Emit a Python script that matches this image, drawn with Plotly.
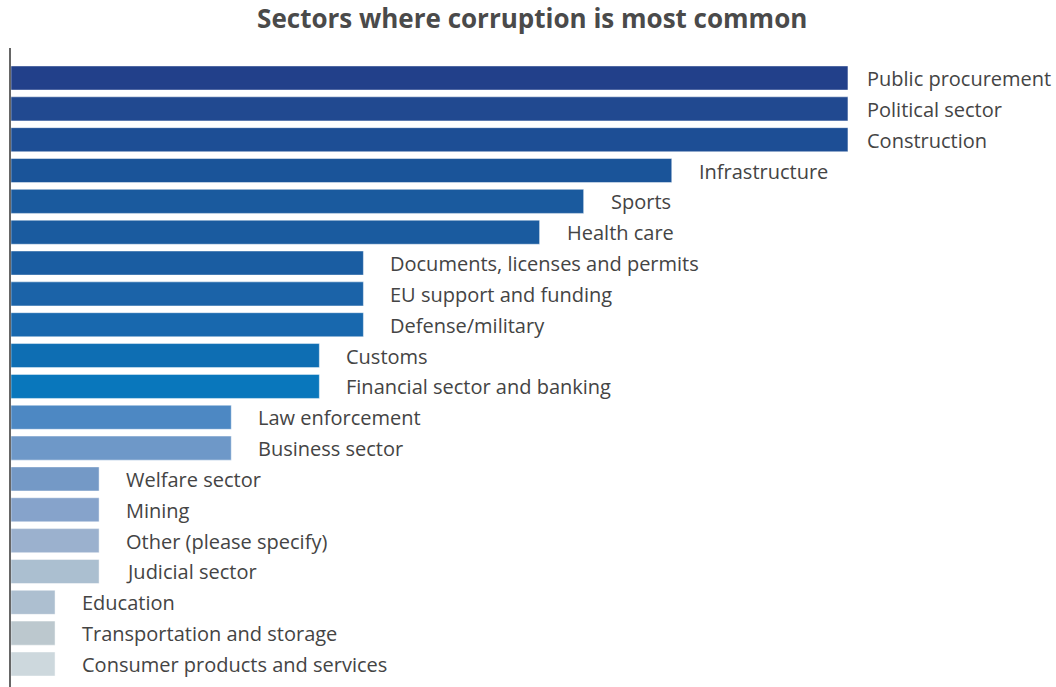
import plotly.graph_objects as go

# Sectors and number of responses naming each one
sectors = [
    "Public procurement", "Political sector", "Construction", "Infrastructure",
    "Sports", "Health care", "Documents, licenses and permits",
    "EU support and funding", "Defense/military", "Customs",
    "Financial sector and banking", "Law enforcement", "Business sector",
    "Welfare sector", "Mining", "Other (please specify)", "Judicial sector",
    "Education", "Transportation and storage", "Consumer products and services",
]
counts = [19, 19, 19, 15, 13, 12, 8, 8, 8, 7, 7, 5, 5, 2, 2, 2, 2, 1, 1, 1]

bar_colors = [
    "#22408A", "#214990", "#1D4E95", "#1A5499", "#1A5A9E", "#1A5B9F",
    "#1A5DA2", "#1B63A8", "#1868AE", "#0E6EB3", "#0977BC", "#4D88C3",
    "#6E98C8", "#7499C6", "#86A3CB", "#9BB1CE", "#ABBFD0", "#ADBFD0",
    "#BCC8CE", "#CDD8DD",
]

fig = go.Figure(
    go.Bar(
        x=counts,
        y=sectors,
        orientation="h",
        marker=dict(color=bar_colors, line=dict(color="rgba(255,255,255,0.45)", width=1)),
        hoverinfo="x+y",
    )
)

top = max(counts)
for name, val in zip(sectors, counts):
    fig.add_annotation(
        x=val, y=name, text=name, showarrow=False,
        xanchor="left", yanchor="middle",
        xshift=17 if val == top else 25,
        yshift=-0.5,
        font=dict(family="Open Sans", size=20, color="#444444"),
    )

fig.update_layout(
    width=1056, height=687,
    margin=dict(l=11, r=0, t=48, b=0),
    paper_bgcolor="white", plot_bgcolor="white",
    bargap=0.22,
    showlegend=False,
    title=dict(
        text="<b>Sectors where corruption is most common</b>",
        x=0.504, xanchor="center", y=0.972, yanchor="middle",
        font=dict(family="Open Sans", size=26, color="#4a4a4a"),
    ),
    xaxis=dict(range=[0, 1045 / 44.05], visible=False, fixedrange=True),
    yaxis=dict(
        categoryorder="array", categoryarray=sectors,
        range=[19.746, -0.973], showticklabels=False, ticks="",
        showgrid=False, zeroline=False,
        showline=True, linecolor="#666666", linewidth=1.5,
    ),
)

fig.write_html("out.html")
